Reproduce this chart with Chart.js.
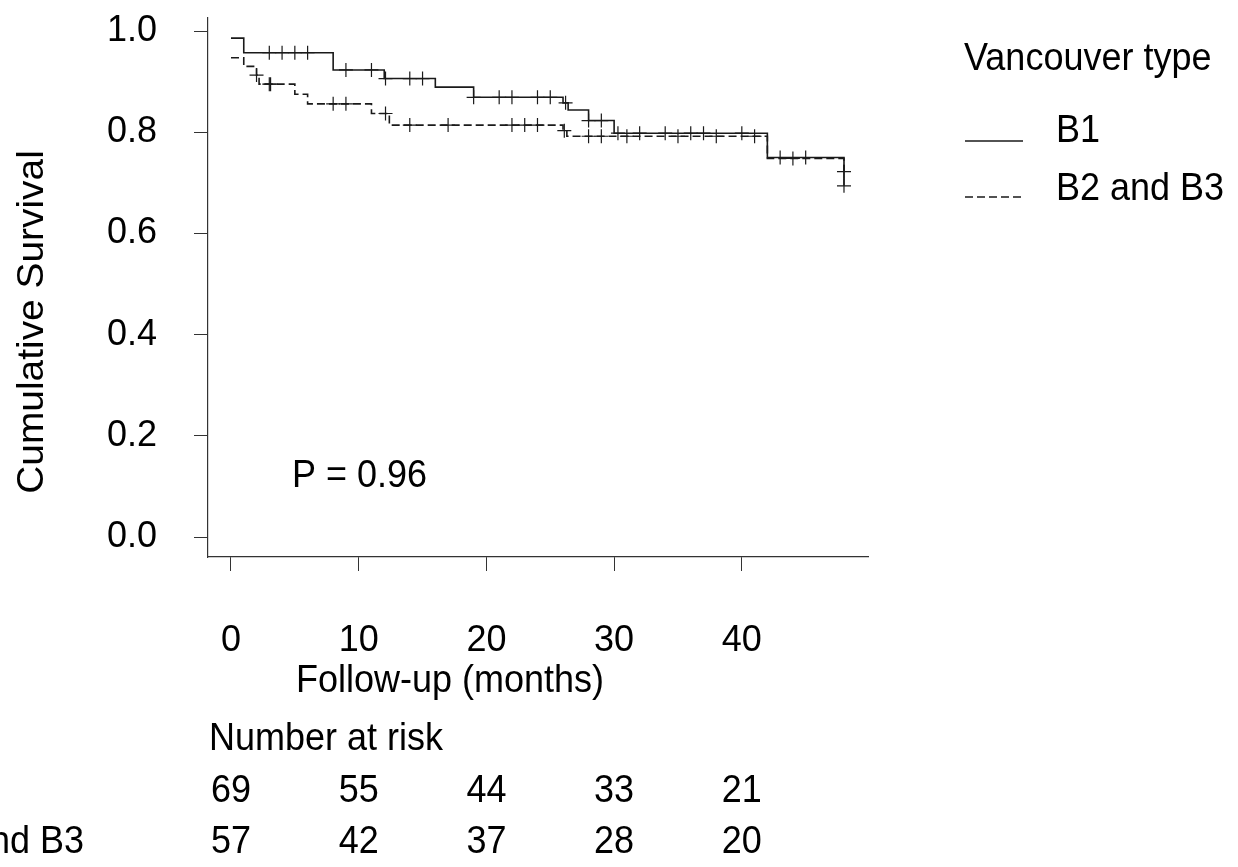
<!DOCTYPE html>
<html>
<head>
<meta charset="utf-8">
<title>Cumulative survival by Vancouver type</title>
<script src="https://cdn.jsdelivr.net/npm/chart.js@4.4.1/dist/chart.umd.min.js"></script>
<style>
  html, body { margin: 0; padding: 0; background: #fff; }
  #wrap { width: 1238px; height: 867px; }
</style>
</head>
<body>
<div id="wrap"><canvas id="km-chart" width="1238" height="867"></canvas></div>
<script>
// Kaplan-Meier steps: time (months) and survival after each drop
const b1Times = [0, 1, 8, 12, 16, 19, 26, 26.4, 28, 30, 42, 48];
const b1Surv = [0.986, 0.957, 0.923, 0.906, 0.889, 0.869, 0.858, 0.844, 0.823, 0.798, 0.750, 0.694];
const b1Censored = [3, 4, 5, 6, 9, 11, 12.1, 14, 15, 19, 21, 22, 24, 25, 26.2, 28, 29, 30.3, 32, 34, 36, 37, 40, 43, 45, 48];

const b2Times = [0, 1, 2, 2.2, 5, 6, 11, 12.4, 26, 26.3, 42, 48];
const b2Surv = [0.947, 0.930, 0.913, 0.895, 0.875, 0.856, 0.837, 0.814, 0.803, 0.792, 0.748, 0.722];
const b2Censored = [2, 3, 3.1, 8, 9, 12.1, 14, 17, 22, 23, 24, 26.1, 28, 29, 31, 35, 38, 41, 44, 48];

const xTicks = [0, 10, 20, 30, 40];
const yTicks = [0, 0.2, 0.4, 0.6, 0.8, 1.0];

// number at risk table
const riskTimes = [0, 10, 20, 30, 40];
const riskB1 = [69, 55, 44, 33, 21];
const riskB2 = [57, 42, 37, 28, 20];

const groupNames = ['B1', 'B2 and B3'];
const legendTitle = 'Vancouver type';
const pValueText = 'P = 0.96';

const FONT = '"Liberation Sans", Arial, Helvetica, sans-serif';
const INK = '#1a1a1a';
const STRETCH = 1.08; // the original figure is a little taller than wide

// survival value of a step curve at time t (used to place the censor marks)
function survAt(times, surv, t) {
    let s = surv[0];
    times.forEach((ti, i) => {
        if (ti <= t) s = surv[i];
    });
    return s;
}

const toPoints = (times, surv) => times.map((t, i) => ({ x: t, y: surv[i] }));
const censorPoints = (cens, times, surv) => cens.map(t => ({ x: t, y: survAt(times, surv, t) }));

function label(ctx, text, x, y, align) {
    ctx.save();
    ctx.translate(x, y);
    ctx.scale(1, STRETCH);
    ctx.textAlign = align || 'left';
    ctx.fillText(text, 0, 0);
    ctx.restore();
}

// draws P value, axis titles, legend and the number at risk table
const annotations = {
    id: 'annotations',
    afterDraw(chart) {
        const ctx = chart.ctx;
        const xScale = chart.scales.x;
        ctx.save();
        ctx.fillStyle = '#000';
        ctx.font = '36px ' + FONT;
        ctx.textBaseline = 'alphabetic';

        label(ctx, pValueText, 292, 487);

        // axis titles
        label(ctx, 'Follow-up (months)', 296, 692);
        ctx.save();
        ctx.translate(43, 322);
        ctx.rotate(-Math.PI / 2);
        ctx.scale(STRETCH, 1);
        ctx.textAlign = 'center';
        ctx.fillText('Cumulative Survival', 0, 0);
        ctx.restore();

        // legend
        label(ctx, legendTitle, 964, 70);
        label(ctx, groupNames[0], 1056, 142);
        label(ctx, groupNames[1], 1056, 200);
        ctx.strokeStyle = INK;
        ctx.lineWidth = 1.3;
        ctx.beginPath();
        ctx.moveTo(965, 141);
        ctx.lineTo(1023, 141);
        ctx.stroke();
        ctx.setLineDash([8, 4]);
        ctx.beginPath();
        ctx.moveTo(965, 197);
        ctx.lineTo(1023, 197);
        ctx.stroke();
        ctx.setLineDash([]);

        // number at risk
        label(ctx, 'Number at risk', 209, 750);
        label(ctx, groupNames[0], -84, 802);
        label(ctx, groupNames[1], -84, 853);
        riskTimes.forEach((t, i) => {
            const px = xScale.getPixelForValue(t);
            label(ctx, String(riskB1[i]), px, 802, 'center');
            label(ctx, String(riskB2[i]), px, 853, 'center');
        });
        ctx.restore();
    }
};

const tickFont = { family: FONT, size: 36 };

new Chart(document.querySelector('#km-chart').getContext('2d'), {
    type: 'line',
    data: {
        datasets: [
            {
                label: groupNames[0],
                data: toPoints(b1Times, b1Surv),
                stepped: true,
                borderColor: INK,
                borderWidth: 1.6,
                pointRadius: 0,
                fill: false
            },
            {
                label: groupNames[1],
                data: toPoints(b2Times, b2Surv),
                stepped: true,
                borderColor: INK,
                borderWidth: 1.6,
                borderDash: [8, 4],
                pointRadius: 0,
                fill: false
            },
            {
                label: groupNames[0] + ' censored',
                data: censorPoints(b1Censored, b1Times, b1Surv),
                showLine: false,
                pointStyle: 'cross',
                pointRadius: 7,
                pointBorderWidth: 1.2,
                pointBorderColor: INK
            },
            {
                label: groupNames[1] + ' censored',
                data: censorPoints(b2Censored, b2Times, b2Surv),
                showLine: false,
                pointStyle: 'cross',
                pointRadius: 7,
                pointBorderWidth: 1.2,
                pointBorderColor: INK
            }
        ]
    },
    options: {
        responsive: false,
        animation: false,
        events: [],
        layout: { padding: { left: 0, top: 18, right: 370, bottom: 210 } },
        plugins: {
            legend: { display: false },
            tooltip: { enabled: false }
        },
        scales: {
            x: {
                type: 'linear',
                min: -1.8,
                max: 49.88,
                afterBuildTicks: scale => { scale.ticks = xTicks.map(v => ({ value: v })); },
                afterFit: scale => {
                    scale.height = 100;
                    scale.paddingLeft = 0;
                    scale.paddingRight = 0;
                },
                ticks: { font: tickFont, color: '#000', padding: 48, maxRotation: 0 },
                grid: { drawOnChartArea: false, drawTicks: true, tickLength: 14, color: '#333' },
                border: { display: true, color: '#333', width: 1.2 }
            },
            y: {
                type: 'linear',
                min: -0.0395,
                max: 1.0257,
                afterBuildTicks: scale => { scale.ticks = yTicks.map(v => ({ value: v })); },
                afterFit: scale => {
                    scale.width = 208;
                    scale.paddingTop = 0;
                    scale.paddingBottom = 0;
                },
                ticks: { font: tickFont, color: '#000', padding: 37, callback: v => v.toFixed(1) },
                grid: { drawOnChartArea: false, drawTicks: true, tickLength: 14, color: '#333' },
                border: { display: true, color: '#333', width: 1.2 }
            }
        }
    },
    plugins: [annotations]
});
</script>
</body>
</html>
